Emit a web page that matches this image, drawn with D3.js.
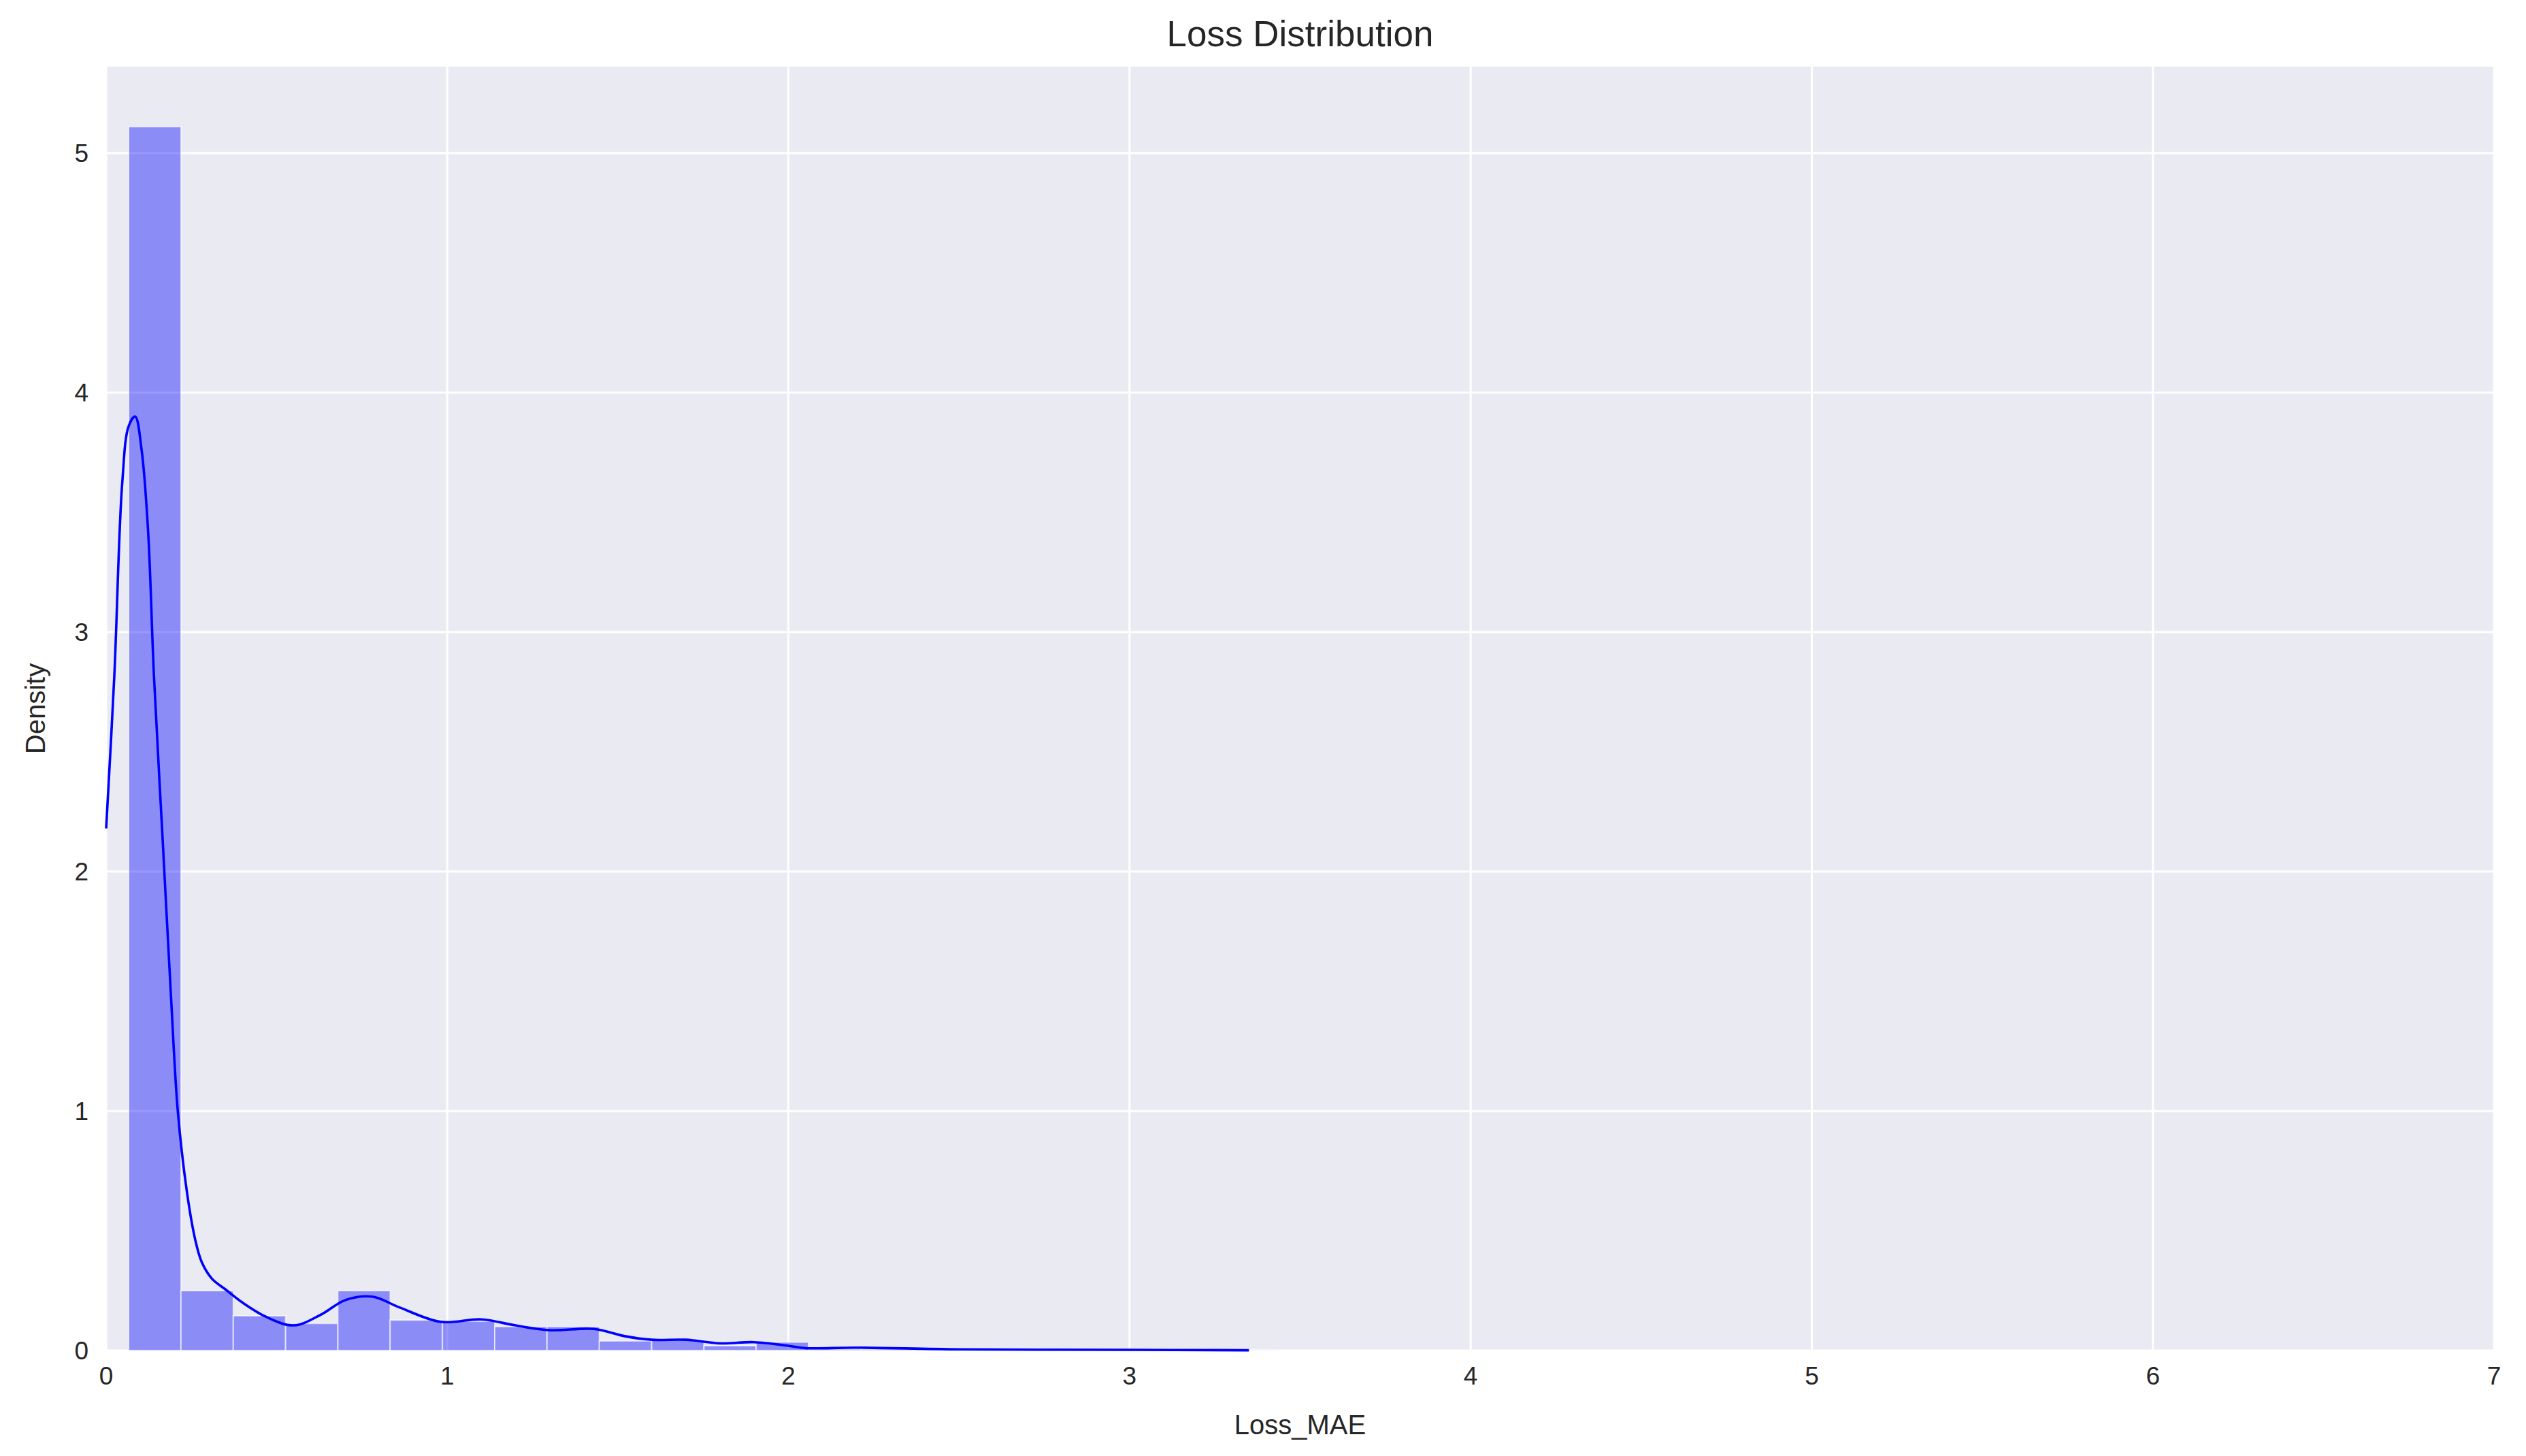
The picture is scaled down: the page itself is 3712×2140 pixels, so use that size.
<!DOCTYPE html>
<html><head><meta charset="utf-8">
<script src="https://cdn.jsdelivr.net/npm/d3@7"></script>
<style>body{margin:0;background:#fff}</style></head>
<body><svg id="c" width="3712" height="2140"></svg>
<script>
const binStart = 0.066, binWidth = 0.1533;
const binHeights = [5.11,0.25,0.145,0.113,0.25,0.127,0.122,0.10,0.10,0.04,0.045,0.02,0.035,0.006,0.005,0.004,0.003,0.002,0.002,0.001,0.001,0.001];
const kdeX = [0,0.024,0.047,0.066,0.085,0.104,0.123,0.14,0.165,0.19,0.21,0.236,0.26,0.28,0.31,0.35,0.40,0.47,0.55,0.63,0.70,0.78,0.86,0.98,1.1,1.2,1.3,1.43,1.52,1.6,1.7,1.8,1.9,2.0,2.05,2.2,2.5,3.0,3.35];
const kdeY = [2.18,2.82,3.62,3.86,3.9,3.76,3.42,2.82,2.15,1.48,1.0,0.67,0.47,0.37,0.30,0.255,0.2,0.14,0.105,0.15,0.21,0.225,0.18,0.12,0.13,0.105,0.085,0.09,0.06,0.045,0.045,0.03,0.035,0.02,0.01,0.012,0.005,0.003,0.001];
const xTicks = [0,1,2,3,4,5,6,7], yTicks = [0,1,2,3,4,5];

const L=156,T=98,R=3665,B=1985;
const svg=d3.select("#c");
const x=d3.scaleLinear().domain([0,7]).range([L,R]);
const y=d3.scaleLinear().domain([0,(B-T)/352]).range([B,T]);
svg.append("rect").attr("x",L).attr("y",T).attr("width",R-L).attr("height",B-T).attr("fill","#eaeaf2");
const g=svg.append("g");
g.selectAll(".gx").data(xTicks).join("line").attr("x1",d=>x(d)).attr("x2",d=>x(d)).attr("y1",T).attr("y2",B).attr("stroke","#fff").attr("stroke-width",3);
g.selectAll(".gy").data(yTicks).join("line").attr("y1",d=>y(d)).attr("y2",d=>y(d)).attr("x1",L).attr("x2",R).attr("stroke","#fff").attr("stroke-width",3);
svg.selectAll(".bar").data(binHeights).join("rect")
 .attr("x",(d,i)=>x(binStart+i*binWidth)).attr("width",x(binWidth)-x(0))
 .attr("y",d=>y(d)).attr("height",d=>B-y(d))
 .attr("fill","rgba(0,0,255,0.4)").attr("stroke","rgba(255,255,255,0.6)").attr("stroke-width",2);
svg.append("path").datum(kdeX.map((v,i)=>[v,kdeY[i]]))
 .attr("d",d3.line().x(d=>x(d[0])).y(d=>y(d[1])).curve(d3.curveCatmullRom))
 .attr("fill","none").attr("stroke","#0000ff").attr("stroke-width",3.6);
const f="Liberation Sans, Arial, sans-serif";
svg.selectAll(".xt").data(xTicks).join("text").attr("x",d=>x(d)).attr("y",B+50).attr("text-anchor","middle")
 .attr("font-family",f).attr("font-size",37).attr("fill","#262626").text(d=>d);
svg.selectAll(".yt").data(yTicks).join("text").attr("x",L-26).attr("y",d=>y(d)+13).attr("text-anchor","end")
 .attr("font-family",f).attr("font-size",37).attr("fill","#262626").text(d=>d);
svg.append("text").attr("x",(L+R)/2).attr("y",68).attr("text-anchor","middle").attr("font-family",f).attr("font-size",53).attr("fill","#262626").text("Loss Distribution");
svg.append("text").attr("x",(L+R)/2).attr("y",2108).attr("text-anchor","middle").attr("font-family",f).attr("font-size",40).attr("fill","#262626").text("Loss_MAE");
svg.append("text").attr("transform",`translate(66,${(T+B)/2}) rotate(-90)`).attr("text-anchor","middle").attr("font-family",f).attr("font-size",40).attr("fill","#262626").text("Density");
</script></body></html>
